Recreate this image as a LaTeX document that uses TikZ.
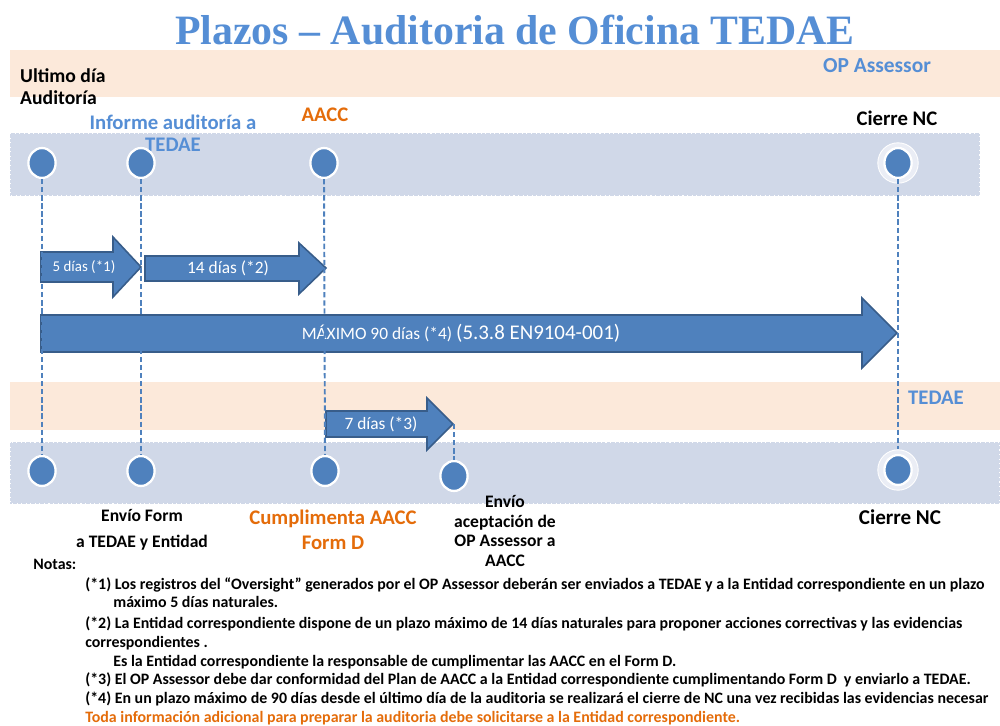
\documentclass[tikz,border=0pt]{standalone}
\usepackage{fontspec}
\setmainfont{Carlito}
\newfontfamily\titlefont{Liberation Serif}
\usetikzlibrary{positioning,calc,shapes.geometric}
\definecolor{peach}{RGB}{252,233,218}
\definecolor{bandblue}{RGB}{208,216,232}
\definecolor{dotblue}{RGB}{79,129,189}
\definecolor{arrowline}{RGB}{56,93,138}
\definecolor{labelblue}{RGB}{85,142,213}
\definecolor{orangetxt}{RGB}{228,108,10}

\begin{document}
\begin{tikzpicture}[x=0.02cm, y=-0.02cm,
    band/.style={draw=white, line width=0.6pt, dotted},
    dot/.style={ellipse, fill=dotblue, draw=white, line width=1.3pt,
      minimum width=15.5pt, minimum height=17pt, inner sep=0pt},
    ring/.style={circle, fill=white!55!bandblue, draw=white, line width=0.5pt,
      minimum size=23pt, inner sep=0pt},
    dline/.style={dotblue, line width=1.1pt, dash pattern=on 3pt off 1.6pt},
    barrow/.style={fill=dotblue, draw=arrowline, line width=0.9pt, line join=miter},
    alabel/.style={text=white, font=\fontsize{9.9}{11}\selectfont},
    lbl/.style={font=\bfseries\fontsize{11.8}{12.5}\selectfont, align=center},
    note/.style={anchor=base west, inner sep=0pt, font=\bfseries\fontsize{9.05}{10}\selectfont}]
  \useasboundingbox (0,0) rectangle (1000,726);
  \node[font=\titlefont\bfseries\fontsize{23.8}{26}\selectfont, text=labelblue] (title) at (515,30)
  {Plazos – Auditoria de Oficina TEDAE};%
  % bands
  \fill[peach] (10,50) rectangle (1000,97);
  \filldraw[fill=bandblue, band] (10,133) rectangle (980,196);
  \fill[peach] (10,382) rectangle (1000,430);
  \filldraw[fill=bandblue, band] (10,442) rectangle (1000,504);
  % top labels
  \node[lbl, align=left, anchor=west, font=\bfseries\fontsize{11.2}{12.5}\selectfont] (ultimo) at (14,87) {Ultimo día\\Auditoría};%
  \node[lbl, text=labelblue, font=\bfseries\fontsize{12.2}{13}\selectfont] (opa) at (877,66) {OP Assessor};%
  \node[lbl, text=labelblue] (informe) at (173,133) {Informe auditoría a\\TEDAE};%
  \node[lbl, text=orangetxt] (aacc) at (325,115) {AACC};%
  \node[lbl] (cierre) at (897,118) {Cierre NC};%
  \node[lbl, text=labelblue] (tedae) at (936,398) {TEDAE};%
  % arrows
  \filldraw[barrow] (41,252) -- (113,252) -- (113,237) -- (141,267) -- (113,297) -- (113,282) -- (41,282) -- cycle;
  \node[alabel, font=\fontsize{8.5}{9}\selectfont] (a1) at (84,267) {5 días (*1)};%
  \filldraw[barrow] (145,256) -- (299,256) -- (299,243) -- (326,268) -- (299,294) -- (299,281) -- (145,281) -- cycle;
  \node[alabel] (a2) at (228,268) {14 días (*2)};%
  \filldraw[barrow] (41,315) -- (862,315) -- (862,298) -- (897,333) -- (862,368) -- (862,352) -- (41,352) -- cycle;
  \node[alabel] (a3) at (461,333) {MÁXIMO 90 días (*4) {\fontsize{11.9}{12}\selectfont(5.3.8 EN9104-001)}};%
  \filldraw[barrow] (326,411) -- (427,411) -- (427,398) -- (453,424) -- (427,450) -- (427,437) -- (326,437) -- cycle;
  \node[alabel] (a4) at (381,424) {7 días (*3)};%
  \coordinate (a4tip) at (454,424);
  % circles
  \node[ring] (t4r) at (898,163) {};%
  \node[ring] (b5r) at (898,470) {};%
  \node[dot] (t1) at (42,163) {};%
  \node[dot] (t2) at (141,163) {};%
  \node[dot] (t3) at (324,163) {};%
  \node[dot] (t4) at (898,163) {};%
  \node[dot] (b1) at (42,471) {};%
  \node[dot] (b2) at (141,471) {};%
  \node[dot] (b3) at (325,471) {};%
  \node[dot] (b4) at (454,476) {};%
  \node[dot] (b5) at (898,470) {};%
  \draw[dline] (t1.south) -- (b1.north);
  \draw[dline] (t2.south) -- (b2.north);
  \draw[dline] (t3.south) -- (b3.north);
  \draw[dline] (t4.south) -- (b5r.north);
  \draw[dline] (a4tip) -- (b4.north);
  % bottom labels
  \node[lbl, font=\bfseries\fontsize{10}{14.7}\selectfont] (envio) at (142,530) {Envío Form\\a TEDAE y Entidad};%
  \node[lbl, text=orangetxt, font=\bfseries\fontsize{11.8}{14.2}\selectfont] (cumpl) at (333,530) {Cumplimenta AACC\\Form D};%
  \node[lbl, font=\bfseries\fontsize{10}{11.3}\selectfont] (acept) at (505,531) {Envío\\aceptación de\\OP Assessor a\\AACC};%
  \node[lbl, font=\bfseries\fontsize{12}{13}\selectfont] (cierre2) at (900,517) {Cierre NC};%
  % notes
  \node[note] (notas) at (33,569) {Notas:};%
  \node[note] (n1) at (85,589) {(*1) Los registros del “Oversight” generados por el OP Assessor deberán ser enviados a TEDAE y a la Entidad correspondiente en un plazo};%
  \node[note] (n2) at (113,607) {máximo 5 días naturales.};%
  \node[note] (n3) at (85,628) {(*2) La Entidad correspondiente dispone de un plazo máximo de 14 días naturales para proponer acciones correctivas y las evidencias};%
  \node[note] (n4) at (85,647) {correspondientes .};%
  \node[note] (n5) at (113,666) {Es la Entidad correspondiente la responsable de cumplimentar las AACC en el Form D.};%
  \node[note] (n6) at (85,684) {(*3) El OP Assessor debe dar conformidad del Plan de AACC a la Entidad correspondiente cumplimentando Form D\ \ y enviarlo a TEDAE.};%
  \node[note] (n7) at (85,703) {(*4) En un plazo máximo de 90 días desde el último día de la auditoria se realizará el cierre de NC una vez recibidas las evidencias necesar};%
  \node[note, text=orangetxt] (n8) at (85,722) {Toda información adicional para preparar la auditoria debe solicitarse a la Entidad correspondiente.};%
\end{tikzpicture}
\end{document}
